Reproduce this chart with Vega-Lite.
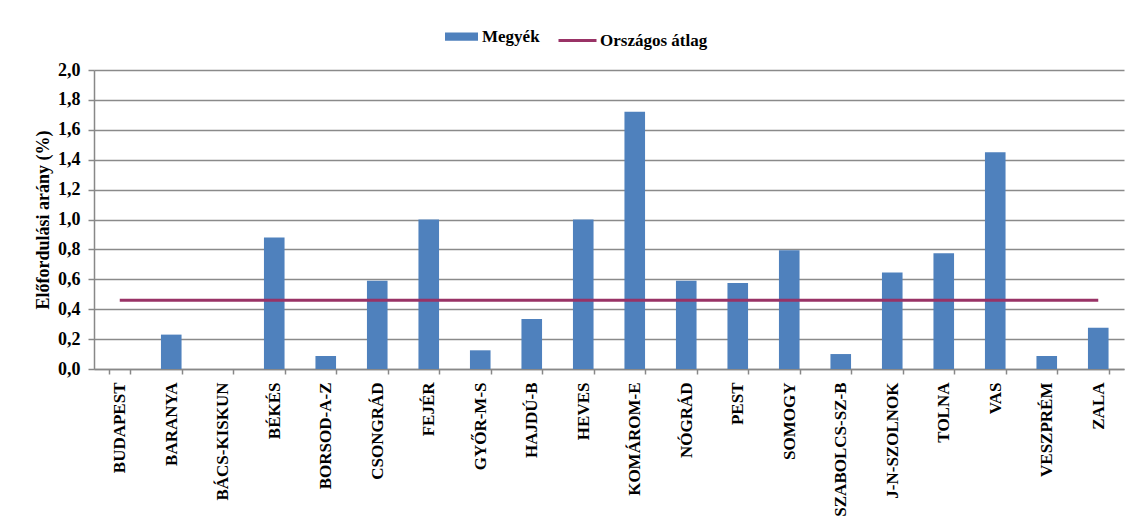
{
  "$schema": "https://vega.github.io/schema/vega-lite/v6.json",
  "autosize": "none",
  "width": 1030,
  "height": 299,
  "padding": {"left": 94, "top": 70, "right": 17, "bottom": 160},
  "background": "white",
  "config": {
    "font": "Liberation Serif",
    "view": {"stroke": null},
    "axis": {"labelFont": "Liberation Serif", "titleFont": "Liberation Serif", "labelFontWeight": "bold", "titleFontWeight": "bold", "labelColor": "#000", "titleColor": "#000"},
    "legend": {"labelFont": "Liberation Serif", "labelFontWeight": "bold", "labelFontSize": 17, "labelColor": "#000", "padding": 0}
  },
  "data": {
    "values": [
      {"megye": "BUDAPEST", "value": 0, "avg": 0.46},
      {"megye": "BARANYA", "value": 0.23, "avg": 0.46},
      {"megye": "BÁCS-KISKUN", "value": 0, "avg": 0.46},
      {"megye": "BÉKÉS", "value": 0.88, "avg": 0.46},
      {"megye": "BORSOD-A-Z", "value": 0.087, "avg": 0.46},
      {"megye": "CSONGRÁD", "value": 0.59, "avg": 0.46},
      {"megye": "FEJÉR", "value": 1.0, "avg": 0.46},
      {"megye": "GYŐR-M-S", "value": 0.125, "avg": 0.46},
      {"megye": "HAJDÚ-B", "value": 0.334, "avg": 0.46},
      {"megye": "HEVES", "value": 1.0, "avg": 0.46},
      {"megye": "KOMÁROM-E", "value": 1.72, "avg": 0.46},
      {"megye": "NÓGRÁD", "value": 0.59, "avg": 0.46},
      {"megye": "PEST", "value": 0.575, "avg": 0.46},
      {"megye": "SOMOGY", "value": 0.795, "avg": 0.46},
      {"megye": "SZABOLCS-SZ-B", "value": 0.1, "avg": 0.46},
      {"megye": "J-N-SZOLNOK", "value": 0.645, "avg": 0.46},
      {"megye": "TOLNA", "value": 0.775, "avg": 0.46},
      {"megye": "VAS", "value": 1.45, "avg": 0.46},
      {"megye": "VESZPRÉM", "value": 0.087, "avg": 0.46},
      {"megye": "ZALA", "value": 0.276, "avg": 0.46}
    ]
  },
  "encoding": {
    "x": {
      "field": "megye", "type": "nominal", "sort": null,
      "scale": {"paddingInner": 0.6, "paddingOuter": 0.3},
      "axis": {
        "title": null, "labelAngle": -90, "labelFontSize": 17, "labelPadding": 8,
        "labelAlign": "right", "labelBaseline": "middle", "labelOverlap": false, "labelLimit": 200,
        "tickBand": "extent", "tickSize": 5, "tickColor": "#888", "domainColor": "#888", "domainWidth": 1.5, "tickWidth": 1.5,
        "grid": false
      }
    }
  },
  "layer": [
    {
      "mark": {"type": "bar", "color": "#4F81BD"},
      "encoding": {
        "y": {
          "field": "value", "type": "quantitative",
          "scale": {"domain": [0, 2], "nice": false},
          "axis": {
            "title": "Előfordulási arány (%)", "titleFontSize": 18, "titlePadding": 5,
            "values": [0, 0.2, 0.4, 0.6, 0.8, 1.0, 1.2, 1.4, 1.6, 1.8, 2.0],
            "labelExpr": "replace(format(datum.value, '.1f'), '.', ',')",
            "labelFontSize": 18, "labelPadding": 8, "labelOverlap": false,
            "grid": true, "gridColor": "#8a8a8a", "gridWidth": 1.5,
            "tickSize": 6, "tickColor": "#888", "tickWidth": 1.5, "domainColor": "#888", "domainWidth": 1.5
          }
        },
        "fill": {
          "datum": "Megyék", "type": "nominal",
          "scale": {"domain": ["Megyék"], "range": ["#4F81BD"]},
          "legend": {"title": null, "orient": "none", "legendX": 351, "legendY": -50, "symbolType": "M-1,-0.25H1V0.25H-1Z", "symbolSize": 1089, "symbolStrokeWidth": 0, "labelOffset": 4}
        }
      }
    },
    {
      "mark": {"type": "line", "strokeWidth": 3},
      "encoding": {
        "y": {
          "field": "avg", "type": "quantitative",
          "scale": {"domain": [0, 2], "nice": false},
          "axis": {
            "title": "Előfordulási arány (%)", "titleFontSize": 18, "titlePadding": 5,
            "values": [0, 0.2, 0.4, 0.6, 0.8, 1.0, 1.2, 1.4, 1.6, 1.8, 2.0],
            "labelExpr": "replace(format(datum.value, '.1f'), '.', ',')",
            "labelFontSize": 18, "labelPadding": 8, "labelOverlap": false,
            "grid": true, "gridColor": "#8a8a8a", "gridWidth": 1.5,
            "tickSize": 6, "tickColor": "#888", "tickWidth": 1.5, "domainColor": "#888", "domainWidth": 1.5
          }
        },
        "stroke": {
          "datum": "Országos átlag", "type": "nominal",
          "scale": {"domain": ["Országos átlag"], "range": ["#993366"]},
          "legend": {"title": null, "orient": "none", "legendX": 463, "legendY": -50, "symbolType": "stroke", "symbolSize": 1444, "symbolStrokeWidth": 3, "labelOffset": 2}
        }
      }
    }
  ]
}
